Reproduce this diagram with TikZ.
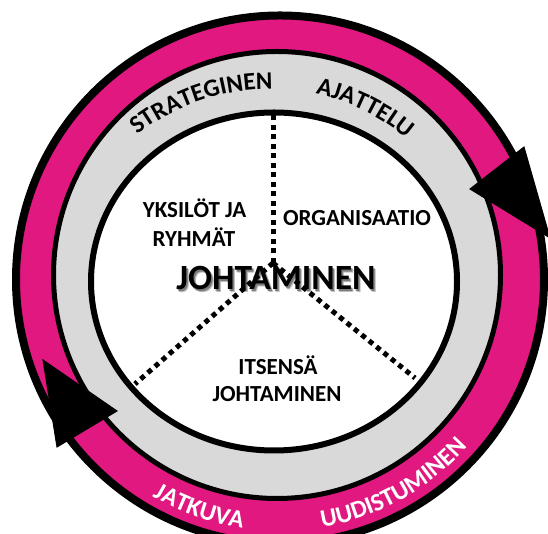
\documentclass[tikz,border=0pt]{standalone}
\usepackage{fontspec}
\setmainfont{Carlito}
\usetikzlibrary{decorations.text}
\definecolor{ringpink}{RGB}{224,24,127}
\definecolor{ringgray}{RGB}{217,217,217}
\newcommand\arcfont{\bfseries\fontsize{25}{30}\selectfont}
\begin{document}
\begin{tikzpicture}[x=1pt,y=1pt,
  lbl/.style={font=\bfseries\fontsize{23}{27}\selectfont, inner sep=0pt, anchor=base},
  bigt/.style={font=\bfseries\fontsize{35.5}{40}\selectfont, inner sep=0pt, anchor=base},
  dots/.style={line width=5pt, dash pattern=on 5pt off 4.5pt},
  head/.style={fill=black, draw=black, line width=1pt, line join=miter},
  arctext/.style={decorate, decoration={text along path, text align=center, text color=#1}},
]
\useasboundingbox (0,0) rectangle (548,534);
\clip (0,0) rectangle (548,534);
\fill[white] (0,0) rectangle (548,534);
% rings
\filldraw[fill=ringpink, draw=black, line width=8pt] (280,254.5) circle[radius=264];
\filldraw[fill=ringgray, draw=black, line width=5pt] (277,259) circle[radius=223.5];
\filldraw[fill=white, draw=black, line width=6pt] (274,252.5) ellipse[x radius=183, y radius=169];
% dotted dividers
\coordinate (hub) at (273,271);
\coordinate (top) at (273,419);
\coordinate (ll) at (135,150);
\coordinate (lr) at (415,156);
\draw[dots] (hub) -- (top);
\draw[dots] (hub) -- (ll);
\draw[dots] (hub) -- (lr);
% arrowheads
\coordinate (rA) at (524,387);
\coordinate (rB) at (470,345);
\coordinate (rT) at (550,296);
\filldraw[head] (rA) -- (rT) -- (rB) -- cycle;
\coordinate (lT) at (43,174);
\coordinate (lB1) at (57,87);
\coordinate (lB2) at (117,123);
\filldraw[head] (lT) -- (lB1) -- (lB2) -- cycle;
% arc texts
\path[decorate, decoration={text along path, text align=center, text={|\arcfont|STRATEGINEN}}]
  (270,231) ++(148.8:214) arc[start angle=148.8, end angle=68.8, radius=214];
\path[decorate, decoration={text along path, text align=center, text={|\arcfont|AJATTELU}}]
  (270,231) ++(104:214) arc[start angle=104, end angle=24, radius=214];
\path[decorate, decoration={text along path, text align=center, text color=white, text={|\arcfont|JATKUVA}}]
  (280,254) ++(-149.5:251) arc[start angle=-149.5, end angle=-69.5, radius=251];
\path[decorate, decoration={text along path, text align=center, text color=white, text={|\arcfont|UUDISTUMINEN}}]
  (280,254) ++(-101:251) arc[start angle=-101, end angle=-21, radius=251];
% labels
\node[lbl] (yk1) at (194.5,316) {YKSILÖT JA};
\node[lbl] (yk2) at (194,287) {RYHMÄT};
\node[lbl] (org) at (357,308.5) {ORGANISAATIO};
\node[lbl] (its1) at (278,159) {ITSENSÄ};
\node[lbl] (its2) at (277,132) {JOHTAMINEN};
\node[bigt, text=black, opacity=0.25] (jsh1) at (278.5,241.5) {JOHTAMINEN};
\node[bigt, text=black, opacity=0.35] (jsh2) at (277.5,242.5) {JOHTAMINEN};
\node[bigt] (jm) at (276,244) {JOHTAMINEN};
\end{tikzpicture}
\end{document}
